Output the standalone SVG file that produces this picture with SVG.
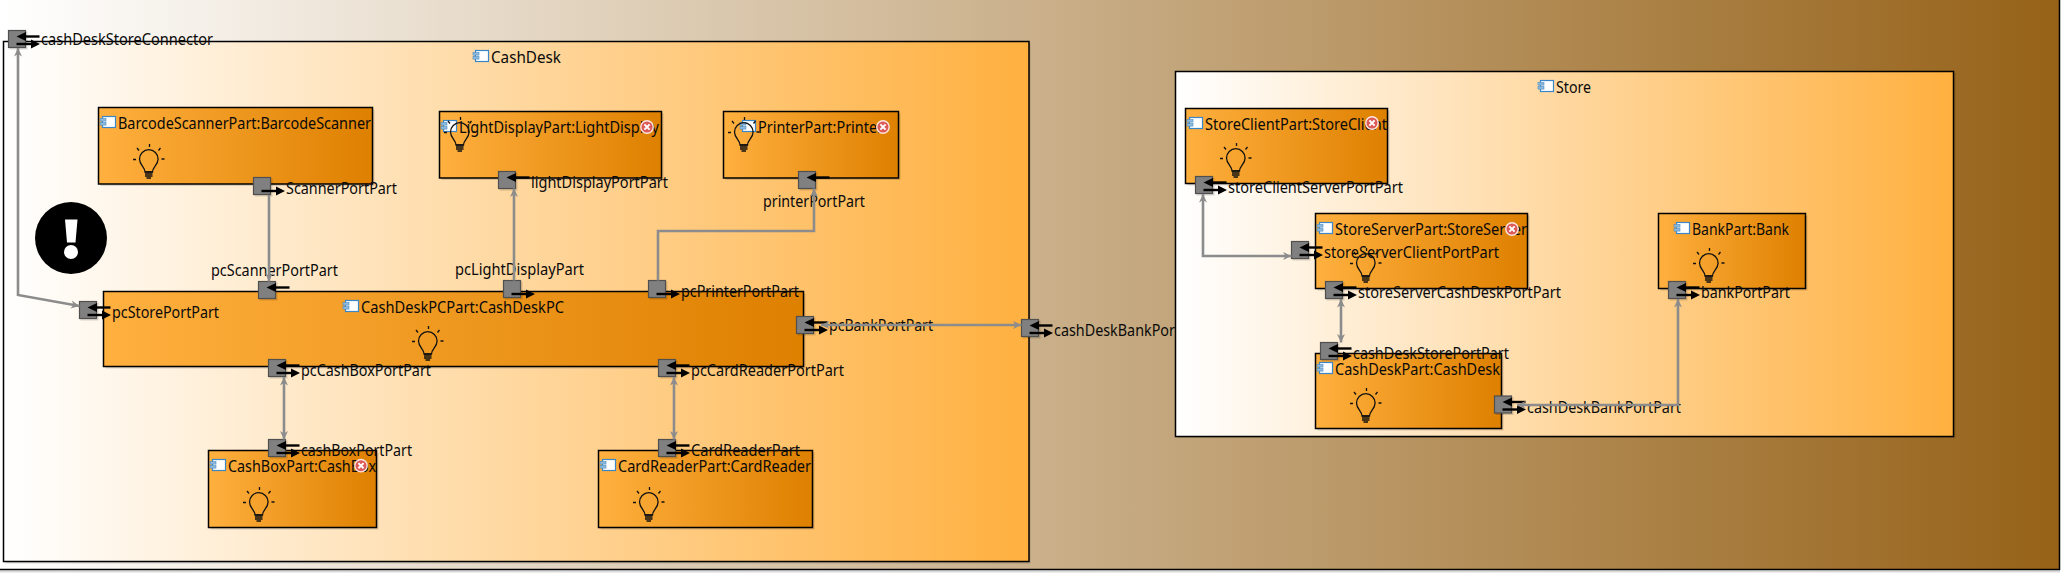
<svg xmlns="http://www.w3.org/2000/svg" xmlns:xlink="http://www.w3.org/1999/xlink" width="2067" height="579" viewBox="0 0 2067 579">
<style>
text{font-family:"Noto Sans","Open Sans","Liberation Sans",sans-serif;font-size:16px;fill:#0a0a0a}
.sh{fill:#000;opacity:.14}
.cont{fill:url(#gc);stroke:#000;stroke-width:1.5}
.part{fill:url(#gn);stroke:#000;stroke-width:1.5}
.wire{fill:none;stroke:#8c8c8c;stroke-width:2.6;marker-end:url(#ah)}
.both{marker-start:url(#ah)}
.bl{fill:none;stroke:#111;stroke-width:1.3}
</style>
<defs>
<linearGradient id="gr"><stop offset="0" stop-color="#fff"/><stop offset="1" stop-color="#966218"/></linearGradient>
<linearGradient id="gc"><stop offset="0" stop-color="#fff"/><stop offset="1" stop-color="#ffb03f"/></linearGradient>
<linearGradient id="gn"><stop offset="0" stop-color="#ffb03f"/><stop offset="1" stop-color="#de8000"/></linearGradient>
<marker id="ah" viewBox="0 0 9 9" refX="8.5" refY="4.5" markerWidth="9" markerHeight="9" markerUnits="userSpaceOnUse" orient="auto-start-reverse"><path d="M0,.5 L8.5,4.5 L0,8.5 L2.5,4.5Z" fill="#8c8c8c"/></marker>
<g id="box"><rect x="-.5" y="-.5" width="18" height="18" fill="#000" opacity=".15" transform="translate(1.5,1.5)"/><rect width="17" height="17" fill="#808080" stroke="#4f4f4f" stroke-width="1.2"/></g>
<g id="ain"><path d="M15,6H31" stroke="#000" stroke-width="2.4" fill="none"/><path d="M8,6L17.5,1.5V10.5Z"/></g>
<g id="aout"><path d="M8,13.5H24" stroke="#000" stroke-width="2.4" fill="none"/><path d="M31.5,13.5L22.5,9V18Z"/></g>
<g id="comp"><rect x="2.5" y=".5" width="13" height="11" fill="#fff" stroke="#3b86c6" stroke-width="1.2"/><rect x="0" y="2.5" width="6" height="2.6" fill="#8db9de" stroke="#4a8cc4" stroke-width=".6"/><rect x="0" y="6.5" width="6" height="2.6" fill="#8db9de" stroke="#4a8cc4" stroke-width=".6"/></g>
<g id="bulb"><path class="bl" d="M.5,0V3M-12,4L-10,6.5M11.5,4L9.5,6.5M-16,15.5H-13M12.5,15H15.5"/><path class="bl" d="M-4,28C-4,23 -9.5,21 -9.5,15a9.3,9.3 0 0 1 18.6,0C9.1,21 3.5,23 3.5,28Z" stroke-width="1.4"/><path d="M-4,28H3.5M-4,30H3.5M-4,32H3.5M-2.5,34H2" stroke="#111" stroke-width="1.4" fill="none"/></g>
<g id="err"><circle r="6.2" fill="#dc5a58" stroke="#fbe6e2" stroke-width="1.4"/><path d="M-2.6,-2.6L2.6,2.6M2.6,-2.6L-2.6,2.6" stroke="#fff" stroke-width="2"/></g>
<g id="pio"><use href="#box"/><use href="#ain"/><use href="#aout"/></g>
<g id="pi"><use href="#box"/><use href="#ain"/></g>
<g id="po"><use href="#box"/><use href="#aout"/></g>
</defs>

<g id="root"><rect x="-1" y="-1" width="2060.5" height="570.5" fill="url(#gr)" stroke="#000" stroke-width="1.5"/>
<rect x="0" y="570.5" width="2060" height="2" fill="#000" opacity=".15"/></g>

<g id="CashDesk">
<rect class="sh" x="5.5" y="43" width="1025" height="520.5"/>
<rect class="cont" x="3.5" y="41.5" width="1025.5" height="520"/>
<use href="#comp" x="473" y="50"/><text x="491" y="63" textLength="70" lengthAdjust="spacingAndGlyphs">CashDesk</text>
</g>

<g id="warning"><circle cx="71" cy="238" r="36"/><path d="M65,219.5H77.5L75.5,242.5H67Z" fill="#fff"/><circle cx="71" cy="252" r="7" fill="#fff"/></g>

<g id="BarcodeScannerPart">
<rect class="sh" x="100.5" y="109.5" width="274" height="76.5"/><rect class="part" x="98.5" y="107.5" width="274" height="76.5"/>
<use href="#comp" x="100" y="116"/><text x="118" y="129" textLength="253" lengthAdjust="spacingAndGlyphs">BarcodeScannerPart:BarcodeScanner</text>
<use href="#bulb" x="149" y="144"/>
<use href="#po" x="253.5" y="177.5"/><text x="286" y="194" textLength="111" lengthAdjust="spacingAndGlyphs">ScannerPortPart</text>
</g>

<g id="LightDisplayPart">
<rect class="sh" x="441.5" y="113.5" width="222" height="66.5"/><rect class="part" x="439.5" y="111.5" width="222" height="66.5"/>
<use href="#comp" x="441" y="120"/><text x="459" y="133" textLength="200" lengthAdjust="spacingAndGlyphs">LightDisplayPart:LightDisplay</text>
<use href="#bulb" x="460" y="117"/><use href="#err" x="647" y="127"/>
<use href="#pi" x="498.5" y="171.5"/><text x="531" y="188" textLength="137" lengthAdjust="spacingAndGlyphs">lightDisplayPortPart</text>
</g>

<g id="PrinterPart">
<rect class="sh" x="725.5" y="113.5" width="175" height="66.5"/><rect class="part" x="723.5" y="111.5" width="175" height="66.5"/>
<use href="#comp" x="740" y="120"/><text x="758" y="133" textLength="125" lengthAdjust="spacingAndGlyphs">PrinterPart:Printer</text>
<use href="#bulb" x="744" y="117"/><use href="#err" x="883" y="127"/>
<use href="#pi" x="798.5" y="171.5"/><text x="763" y="207" textLength="102" lengthAdjust="spacingAndGlyphs">printerPortPart</text>
</g>

<g id="CashDeskPCPart">
<rect class="sh" x="105.5" y="293.5" width="700" height="75"/><rect class="part" x="103.5" y="291.5" width="700" height="75"/>
<use href="#comp" x="343" y="300"/><text x="361" y="313" textLength="203" lengthAdjust="spacingAndGlyphs">CashDeskPCPart:CashDeskPC</text>
<use href="#bulb" x="428" y="326"/>
<use href="#pi" x="258.5" y="281.5"/><text x="211" y="276" textLength="127" lengthAdjust="spacingAndGlyphs">pcScannerPortPart</text>
<use href="#po" x="503.5" y="280.5"/><text x="455" y="275" textLength="129" lengthAdjust="spacingAndGlyphs">pcLightDisplayPart</text>
<use href="#po" x="648.5" y="280.5"/><text x="681" y="297" textLength="118" lengthAdjust="spacingAndGlyphs">pcPrinterPortPart</text>
<use href="#pio" x="79.5" y="301.5"/><text x="112" y="318" textLength="107" lengthAdjust="spacingAndGlyphs">pcStorePortPart</text>
<use href="#pio" x="796.5" y="316.5"/><text x="829" y="331" textLength="104" lengthAdjust="spacingAndGlyphs">pcBankPortPart</text>
<use href="#pio" x="268.5" y="359.5"/><text x="301" y="376" textLength="130" lengthAdjust="spacingAndGlyphs">pcCashBoxPortPart</text>
<use href="#pio" x="658.5" y="359.5"/><text x="691" y="376" textLength="153" lengthAdjust="spacingAndGlyphs">pcCardReaderPortPart</text>
</g>

<g id="CashBoxPart">
<rect class="sh" x="210.5" y="452.5" width="168" height="77"/><rect class="part" x="208.5" y="450.5" width="168" height="77"/>
<use href="#comp" x="210" y="459"/><text x="228" y="472" textLength="148" lengthAdjust="spacingAndGlyphs">CashBoxPart:CashBox</text>
<use href="#bulb" x="259" y="487"/><use href="#err" x="361" y="465.7"/>
<use href="#pio" x="268.5" y="439.5"/><text x="301" y="456" textLength="111" lengthAdjust="spacingAndGlyphs">cashBoxPortPart</text>
</g>

<g id="CardReaderPart">
<rect class="sh" x="600.5" y="452.5" width="214" height="77"/><rect class="part" x="598.5" y="450.5" width="214" height="77"/>
<use href="#comp" x="600" y="459"/><text x="618" y="472" textLength="193" lengthAdjust="spacingAndGlyphs">CardReaderPart:CardReader</text>
<use href="#bulb" x="649" y="487"/>
<use href="#pio" x="658.5" y="439.5"/><text x="691" y="456" textLength="109" lengthAdjust="spacingAndGlyphs">CardReaderPart</text>
</g>

<g id="cashDeskStoreConnector"><use href="#pio" x="8.5" y="30.5"/><text x="41" y="45" textLength="172" lengthAdjust="spacingAndGlyphs">cashDeskStoreConnector</text></g>
<g id="cashDeskBankPort"><use href="#pio" x="1021.5" y="319.5"/><text x="1054" y="336" textLength="154" lengthAdjust="spacingAndGlyphs">cashDeskBankPortPart</text></g>

<g id="Store">
<rect class="sh" x="1177.5" y="73" width="778" height="365"/>
<rect class="cont" x="1175.5" y="71.5" width="778" height="365"/>
<use href="#comp" x="1538" y="80"/><text x="1556" y="93" textLength="35" lengthAdjust="spacingAndGlyphs">Store</text>
</g>

<g id="StoreClientPart">
<rect class="sh" x="1187.5" y="110.5" width="202" height="75"/><rect class="part" x="1185.5" y="108.5" width="202" height="75"/>
<use href="#comp" x="1187" y="117"/><text x="1205" y="130" textLength="182" lengthAdjust="spacingAndGlyphs">StoreClientPart:StoreClient</text>
<use href="#bulb" x="1236" y="143"/><use href="#err" x="1372" y="123"/>
<use href="#pio" x="1195.5" y="176.5"/><text x="1228" y="193" textLength="175" lengthAdjust="spacingAndGlyphs">storeClientServerPortPart</text>
</g>

<g id="StoreServerPart">
<rect class="sh" x="1317.5" y="215.5" width="212" height="75"/><rect class="part" x="1315.5" y="213.5" width="212" height="75"/>
<use href="#comp" x="1317" y="222"/><text x="1335" y="235" textLength="192" lengthAdjust="spacingAndGlyphs">StoreServerPart:StoreServer</text>
<use href="#bulb" x="1366" y="248"/><use href="#err" x="1512" y="229"/>
<use href="#pio" x="1291.5" y="241.5"/><text x="1324" y="258" textLength="175" lengthAdjust="spacingAndGlyphs">storeServerClientPortPart</text>
<use href="#pio" x="1325.5" y="281.5"/><text x="1358" y="298" textLength="203" lengthAdjust="spacingAndGlyphs">storeServerCashDeskPortPart</text>
</g>

<g id="CashDeskPart">
<rect class="sh" x="1317.5" y="355.5" width="186" height="75"/><rect class="part" x="1315.5" y="353.5" width="186" height="75"/>
<use href="#comp" x="1317" y="362"/><text x="1335" y="375" textLength="165" lengthAdjust="spacingAndGlyphs">CashDeskPart:CashDesk</text>
<use href="#bulb" x="1366" y="388"/>
<use href="#pio" x="1320.5" y="342.5"/><text x="1353" y="359" textLength="156" lengthAdjust="spacingAndGlyphs">cashDeskStorePortPart</text>
<use href="#pio" x="1494.5" y="396"/><text x="1527" y="413" textLength="154" lengthAdjust="spacingAndGlyphs">cashDeskBankPortPart</text>
</g>

<g id="BankPart">
<rect class="sh" x="1660.5" y="215.5" width="147" height="75"/><rect class="part" x="1658.5" y="213.5" width="147" height="75"/>
<use href="#comp" x="1674" y="222"/><text x="1692" y="235" textLength="97" lengthAdjust="spacingAndGlyphs">BankPart:Bank</text>
<use href="#bulb" x="1709" y="248"/>
<use href="#pio" x="1668.5" y="281.5"/><text x="1701" y="298" textLength="89" lengthAdjust="spacingAndGlyphs">bankPortPart</text>
</g>

<g id="connectors">
<path class="wire both" d="M18,48V295L79.5,306"/>
<path class="wire" d="M269,195V281.5"/>
<path class="wire" d="M514,280.5V188.5"/>
<path class="wire" d="M658,280.5V231H814V188.5"/>
<path class="wire both" d="M821,325H1021.5"/>
<path class="wire both" d="M284,377V439.5"/>
<path class="wire both" d="M674,377V439.5"/>
<path class="wire both" d="M1203,194V256H1291.5"/>
<path class="wire both" d="M1341,299V342.5"/>
<path class="wire both" d="M1517,405H1678V299"/>
</g>
</svg>
